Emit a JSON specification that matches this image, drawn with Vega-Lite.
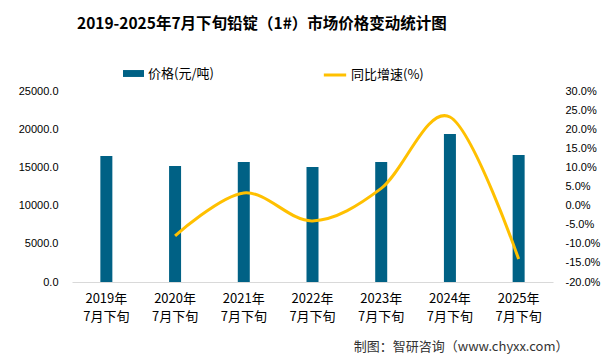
{
  "$schema": "https://vega.github.io/schema/vega-lite/v6.json",
  "width": 481,
  "height": 191,
  "autosize": {"type": "none"},
  "padding": {"left": 72, "top": 91, "right": 56, "bottom": 81},
  "background": "white",
  "config": {
    "view": {"stroke": null},
    "font": "Noto Sans CJK SC"
  },
  "title": {
    "text": "2019-2025年7月下旬铅锭（1#）市场价格变动统计图",
    "font": "Noto Sans CJK SC",
    "fontSize": 15.5,
    "fontWeight": "bold",
    "color": "#000000",
    "anchor": "start",
    "frame": "group",
    "dx": 5,
    "offset": 30
  },
  "data": {
    "values": [
      {"year": "2019", "price": 16490, "growth": null},
      {"year": "2020", "price": 15180, "growth": -0.079},
      {"year": "2021", "price": 15710, "growth": 0.033},
      {"year": "2022", "price": 15050, "growth": -0.040},
      {"year": "2023", "price": 15710, "growth": 0.045},
      {"year": "2024", "price": 19370, "growth": 0.232},
      {"year": "2025", "price": 16620, "growth": -0.140}
    ]
  },
  "encoding": {
    "x": {
      "field": "year",
      "type": "nominal",
      "sort": null,
      "axis": {
        "labelAngle": 0,
        "labelExpr": "[datum.value + '年', '7月下旬']",
        "labelFont": "Noto Sans CJK SC",
        "labelFontSize": 13,
        "labelColor": "#000000",
        "labelLineHeight": 18,
        "labelPadding": 10,
        "ticks": false,
        "domainColor": "#d9d9d9",
        "domainWidth": 1,
        "title": "制图：智研咨询（www.chyxx.com）",
        "titleFont": "Noto Sans CJK SC",
        "titleFontSize": 13,
        "titleFontWeight": "normal",
        "titleColor": "#333333",
        "titleAlign": "right",
        "titleBaseline": "middle",
        "titleX": 496,
        "titleY": 64
      }
    }
  },
  "layer": [
    {
      "mark": {"type": "bar", "size": 12},
      "encoding": {
        "y": {
          "field": "price",
          "type": "quantitative",
          "scale": {"domain": [0, 25000]},
          "axis": {
            "values": [0, 5000, 10000, 15000, 20000, 25000],
            "format": ".1f",
            "title": null,
            "grid": false,
            "domain": false,
            "ticks": false,
            "labelFont": "Liberation Sans",
            "labelFontSize": 11,
            "labelColor": "#000000",
            "labelPadding": 14
          }
        },
        "color": {
          "datum": "价格(元/吨)",
          "type": "nominal",
          "scale": {"range": ["#006185"]},
          "legend": {
            "orient": "none",
            "legendX": 50,
            "legendY": -29,
            "title": null,
            "symbolType": "M-1,-0.33H1V0.33H-1Z",
            "symbolSize": 440,
            "labelFont": "Noto Sans CJK SC",
            "labelFontSize": 13,
            "labelColor": "#000000",
            "labelOffset": 3
          }
        }
      }
    },
    {
      "mark": {"type": "line", "interpolate": "cardinal", "strokeWidth": 3},
      "encoding": {
        "y": {
          "field": "growth",
          "type": "quantitative",
          "scale": {"domain": [-0.2, 0.3]},
          "axis": {
            "orient": "right",
            "values": [-0.2, -0.15, -0.1, -0.05, 0, 0.05, 0.1, 0.15, 0.2, 0.25, 0.3],
            "format": ".1%",
            "labelExpr": "replace(datum.label, '\u2212', '-')",
            "title": null,
            "grid": false,
            "domain": false,
            "ticks": false,
            "labelFont": "Liberation Sans",
            "labelFontSize": 11,
            "labelColor": "#000000",
            "labelPadding": 12
          }
        },
        "stroke": {
          "datum": "同比增速(%)",
          "type": "nominal",
          "scale": {"range": ["#FFC000"]},
          "legend": {
            "orient": "none",
            "legendX": 250,
            "legendY": -29,
            "title": null,
            "symbolType": "stroke",
            "symbolStrokeWidth": 3,
            "symbolSize": 500,
            "labelFont": "Noto Sans CJK SC",
            "labelFontSize": 13,
            "labelColor": "#000000",
            "labelOffset": 3
          }
        }
      }
    }
  ],
  "resolve": {"scale": {"y": "independent", "color": "independent"}}
}
